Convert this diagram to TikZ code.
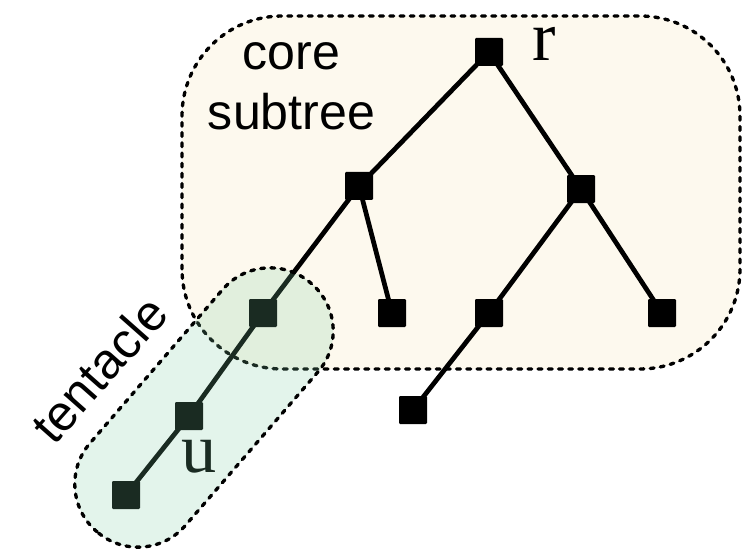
\documentclass[tikz,border=0pt]{standalone}
\usepackage{fontspec}
\setmainfont{Liberation Serif}
\setsansfont{Liberation Sans}
\usepackage{xcolor}
\usepackage{tikz}
\usetikzlibrary{positioning}

\definecolor{corefill}{RGB}{253,249,238}
\definecolor{tentfill}{RGB}{124,205,162}

\begin{document}
\begin{tikzpicture}[
    vtx/.style={fill=black, minimum size=0.56cm, inner sep=0pt, rounded corners=0.6pt},
    edge/.style={line width=2.7pt},
    region/.style={line width=1.9pt, line cap=round, dash pattern=on 2.2pt off 3.6pt},
    lbl/.style={font=\fontsize{40}{42}\selectfont, inner sep=0pt},
    side/.style={font=\sffamily\fontsize{28.5}{34}\selectfont, inner sep=0pt, align=center}]
  \useasboundingbox (0,0) rectangle (15.12,10.96);
  % the core subtree region
  \draw[region, fill=corefill, rounded corners=2cm] (3.64,3.58) rectangle (14.8,10.64);
  \node[side, anchor=north] (core) at (5.83,10.12) {core\\subtree};
  % tree nodes
  \node[vtx] (r) at (9.78,9.92) {};
  \node[vtx] (a) at (7.18,7.24) {};
  \node[vtx] (b) at (11.62,7.18) {};
  \node[vtx] (c) at (5.26,4.70) {};
  \node[vtx] (d) at (7.84,4.70) {};
  \node[vtx] (e) at (9.78,4.70) {};
  \node[vtx] (f) at (13.24,4.70) {};
  \node[vtx] (g) at (8.26,2.76) {};
  \node[vtx] (h) at (3.78,2.64) {};
  \node[vtx] (i) at (2.52,1.06) {};
  % edges
  \draw[edge] (r.center) -- (a.center)  (r.center) -- (b.center)
              (a.center) -- (c.center)  (a.center) -- (d.center)
              (b.center) -- (e.center)  (b.center) -- (f.center)
              (e.center) -- (g.center)
              (c.center) -- (h.center)  (h.center) -- (i.center);
  \node[lbl] (rlab) at (10.88,10.08) {r};
  \node[lbl] (ulab) at (3.98,1.82) {u};
  % tentacle band, see-through over the tree
  \begin{scope}[shift={(4.08,2.81)}, rotate=49.2]
    \draw[region, fill=tentfill, fill opacity=0.21, rounded corners=1.25cm]
      (-3.28,-1.26) rectangle (3.28,1.26);
  \end{scope}
  \node[side, rotate=48.5] (tent) at (1.98,3.58) {tentacle};
\end{tikzpicture}
\end{document}
